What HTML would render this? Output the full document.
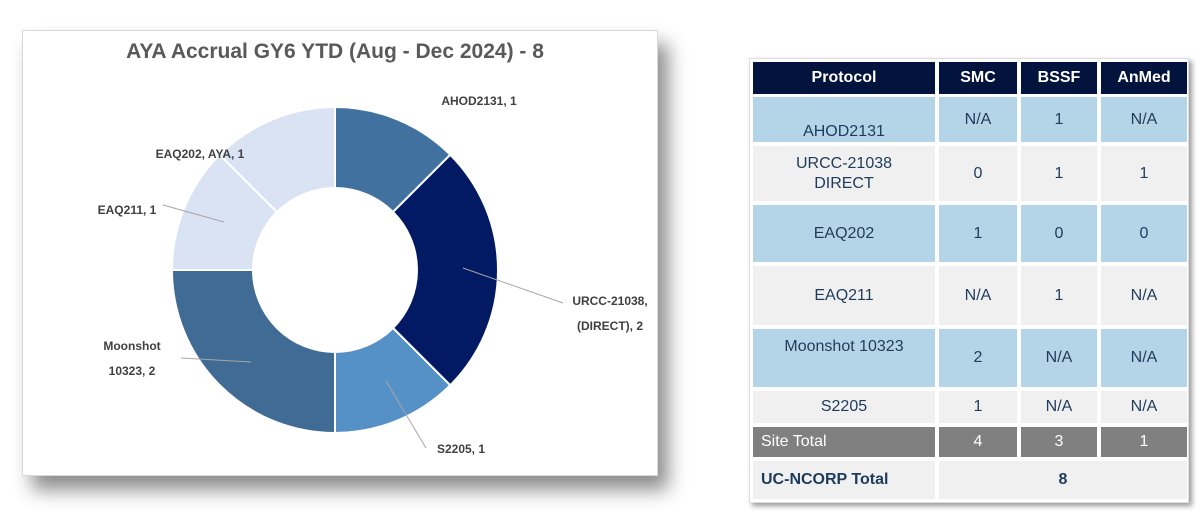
<!DOCTYPE html>
<html><head><meta charset="utf-8">
<style>
body{margin:0;width:1200px;height:521px;background:#fff;position:relative;overflow:hidden;font-family:"Liberation Sans",sans-serif;}
#chart-panel{position:absolute;left:22px;top:30px;width:634px;height:444px;background:#fff;border:1px solid #d9d9d9;box-shadow:10px 14px 18px rgba(0,0,0,0.45);}
#table-panel{position:absolute;left:749px;top:58px;width:440px;height:445px;background:#fff;box-shadow:3px 3px 5px rgba(0,0,0,0.4);border:1px solid #ddd;box-sizing:border-box;}
.c{position:absolute;display:flex;align-items:center;justify-content:center;text-align:center;font-size:16px;color:#1f3b5c;box-sizing:border-box;line-height:20px;}
.h{background:#02133d;color:#fff;font-weight:bold;}
.b{background:#b4d4e8;}
.g{background:#f0f0f0;}
.t{background:#808080;color:#fff;}
</style></head><body>
<div id="chart-panel"></div>
<svg id="donut" width="700" height="521" style="position:absolute;left:0;top:0">
<text x="335" y="58" text-anchor="middle" font-size="21" font-weight="bold" fill="#595959" font-family="Liberation Sans, sans-serif">AYA Accrual GY6 YTD (Aug - Dec 2024) - 8</text>
<g id="slices"></g>
<g id="labels" font-size="12" font-weight="bold" fill="#404040" font-family="Liberation Sans, sans-serif"></g>
</svg>
<div id="table-panel"></div>
<script>
const categories=["AHOD2131","URCC-21038, (DIRECT)","S2205","Moonshot 10323","EAQ211","EAQ202, AYA"];
const values=[1,2,1,2,1,1];
const colors=["#41729f","#021a63","#5590c7","#406b95","#dae3f3","#dae3f3"];
const labelLines=[["AHOD2131, 1"],["URCC-21038,","(DIRECT), 2"],["S2205, 1"],["Moonshot","10323, 2"],["EAQ211, 1"],["EAQ202, AYA, 1"]];
const labelPos=[[479,105,null],[610,305,[463,268,563,303]],[461,453,[386,381,426,448]],[132,350,[181,358,251,362]],[127,214,[163,205,224,222]],[200,158,null]];
const cx=335,cy=270,R=163,r=82;
const ns="http://www.w3.org/2000/svg";
const total=values.reduce((a,b)=>a+b,0);
const sg=document.getElementById('slices'),lg=document.getElementById('labels');
let a0=0;
function pt(rad,a){return [cx+rad*Math.sin(a),cy-rad*Math.cos(a)];}
values.forEach((v,i)=>{
 const a1=a0+v/total*2*Math.PI;
 const [x0,y0]=pt(R,a0),[x1,y1]=pt(R,a1),[x2,y2]=pt(r,a1),[x3,y3]=pt(r,a0);
 const lf=(a1-a0)>Math.PI?1:0;
 const p=document.createElementNS(ns,'path');
 p.setAttribute('d',`M${x0},${y0}A${R},${R} 0 ${lf} 1 ${x1},${y1}L${x2},${y2}A${r},${r} 0 ${lf} 0 ${x3},${y3}Z`);
 p.setAttribute('fill',colors[i]);p.setAttribute('stroke','#fff');p.setAttribute('stroke-width','2');
 
 
 sg.appendChild(p);
 const lp=labelPos[i];
 if(lp[2]){const l=document.createElementNS(ns,'line');const q=lp[2];
  l.setAttribute('x1',q[0]);l.setAttribute('y1',q[1]);l.setAttribute('x2',q[2]);l.setAttribute('y2',q[3]);
  l.setAttribute('stroke','#a6a6a6');l.setAttribute('stroke-width','1');
  
  
  lg.appendChild(l);}
 labelLines[i].forEach((s,k)=>{const t=document.createElementNS(ns,'text');
  t.setAttribute('x',lp[0]);t.setAttribute('y',lp[1]+k*25);t.setAttribute('text-anchor','middle');t.textContent=s;
  
  
  lg.appendChild(t);});
 a0=a1;
});
// table
const cols=[[3,182],[189,78],[271,76],[351,86]];
const rows=[[3,32,'h',["Protocol","SMC","BSSF","AnMed"]],[38,45,'b',["AHOD2131","N/A","1","N/A"]],[87,55,'g',["URCC-21038<br>DIRECT","0","1","1"]],[146,57,'b',["EAQ202","1","0","0"]],[207,59,'g',["EAQ211","N/A","1","N/A"]],[270,58,'b',["Moonshot 10323","2","N/A","N/A"]],[332,32,'g',["S2205","1","N/A","N/A"]],[368,30,'t',["Site Total","4","3","1"]]];
const tp=document.getElementById('table-panel');
rows.forEach((rw,ri)=>{cols.forEach((c,ci)=>{const d=document.createElement('div');
 d.className='c '+rw[2];d.style.left=c[0]+'px';d.style.top=rw[0]+'px';d.style.width=c[1]+'px';d.style.height=rw[1]+'px';
 d.innerHTML=rw[3][ci];
 if(ri==1&&ci==0){d.style.alignItems='flex-end';}
 if(ri==5&&ci==0){d.style.alignItems='flex-start';d.style.paddingTop='8px';}
 if(ri==7&&ci==0){d.style.justifyContent='flex-start';d.style.paddingLeft='8px';}
 
 
 tp.appendChild(d);});});
const f1=document.createElement('div');f1.className='c g';f1.style.cssText='left:3px;top:402px;width:182px;height:38px;justify-content:flex-start;padding-left:8px;font-weight:bold;';f1.textContent='UC-NCORP Total';


tp.appendChild(f1);
const f2=document.createElement('div');f2.className='c g';f2.style.cssText='left:189px;top:402px;width:248px;height:38px;font-weight:bold;';f2.textContent='8';


tp.appendChild(f2);
</script>
</body></html>
